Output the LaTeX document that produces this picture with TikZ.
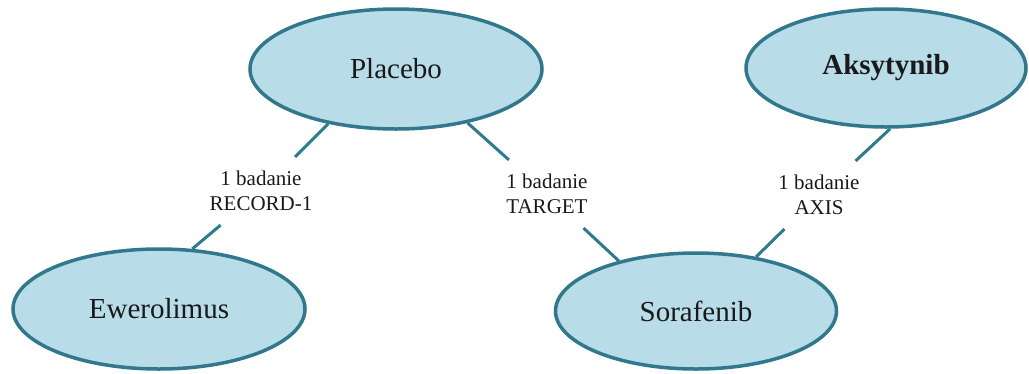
\documentclass[tikz,border=0pt]{standalone}
\usepackage{fontspec}
\setmainfont{Liberation Serif}
\usetikzlibrary{shapes.geometric}
\definecolor{ellfill}{HTML}{B8DDE9}
\definecolor{elldraw}{HTML}{31788C}
\definecolor{linecol}{HTML}{2F7A8C}
\tikzset{
  drug/.style={ellipse, draw=elldraw, fill=ellfill, line width=3.5pt, inner sep=0pt,
    font=\fontsize{29}{34}\selectfont, text=black!90},
  lab/.style={align=center, inner xsep=2pt, inner ysep=14pt, font=\fontsize{21}{25}\selectfont, text=black!90},
  conn/.style={draw=linecol, line width=3pt}
}
\begin{document}
\begin{tikzpicture}[x=1pt,y=-1pt]
\useasboundingbox (0,0) rectangle (1029,373);
\node[drug, minimum width=292pt, minimum height=120pt] (placebo) at (396,69) {Placebo};
\node[drug, minimum width=280pt, minimum height=118pt] (aks) at (886,68) {\bfseries Aksytynib};
\node[drug, minimum width=292pt, minimum height=120pt] (ewer) at (159,309) {Ewerolimus};
\node[drug, minimum width=281pt, minimum height=116pt] (sora) at (696,311) {Sorafenib};
\node[lab] (l1) at (261,191) {1 badanie\\RECORD-1};
\node[lab] (l2) at (547,194) {1 badanie\\TARGET};
\node[lab] (l3) at (819,195) {1 badanie\\AXIS};
\draw[conn] (placebo.219) -- (l1);
\draw[conn] (l1) -- (ewer.61);
\draw[conn] (placebo.323) -- (l2);
\draw[conn] (l2) -- (sora.147);
\draw[conn] (aks.274) -- (l3);
\draw[conn] (l3) -- (sora.42);
\end{tikzpicture}
\end{document}
